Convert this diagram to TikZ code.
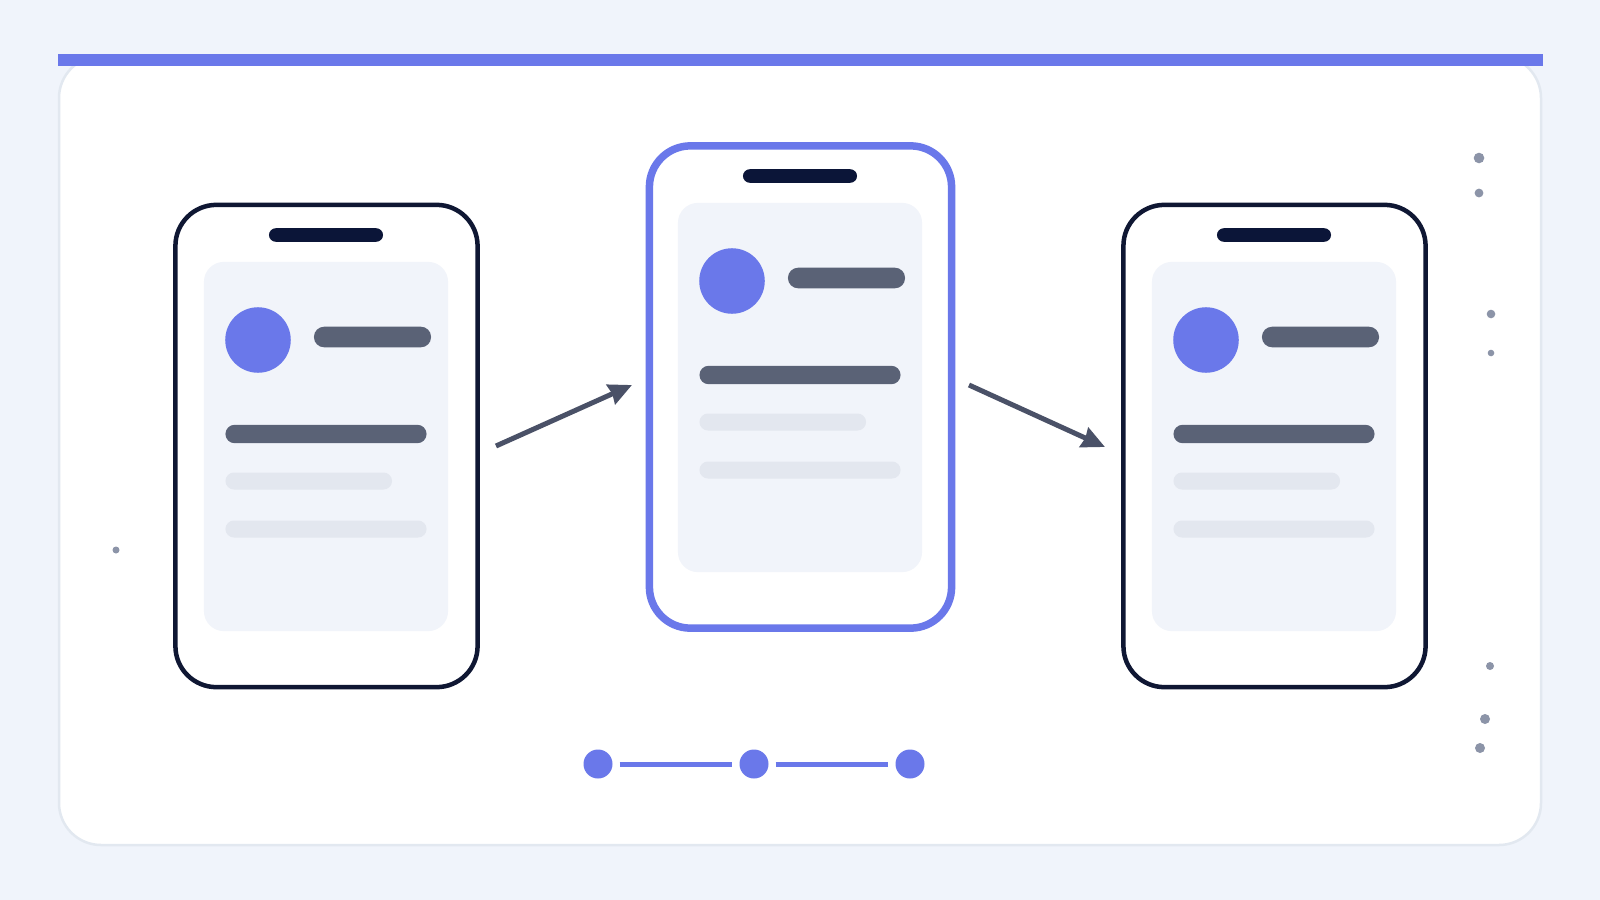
\documentclass[tikz,border=0pt]{standalone}
\usetikzlibrary{arrows.meta}
\definecolor{bg}{HTML}{F0F4FB}
\definecolor{cardborder}{HTML}{E2E8F0}
\definecolor{indigo}{HTML}{6A78EA}
\definecolor{navy}{HTML}{0F1733}
\definecolor{notchc}{HTML}{0B1538}
\definecolor{barc}{HTML}{5A6276}
\definecolor{lightbar}{HTML}{E3E7EF}
\definecolor{panelc}{HTML}{F1F4FA}
\definecolor{arrowc}{HTML}{4A5167}
\definecolor{dotc}{HTML}{8C94A8}
\newcommand\phoneui[3]{%
  \node[phonebox, draw=#2, line width=#3] (#1) at (326.5,446) {};
  \node[panelbox] (#1panel) at (326,446.5) {};
  \node[pill, fill=notchc, minimum width=1.14cm, minimum height=0.135cm, rounded corners=0.0675cm] (#1notch) at (326,235) {};
  \node[avatar] (#1avatar) at (258,340) {};
  \node[pill, fill=barc, minimum width=1.17cm, minimum height=0.205cm, rounded corners=0.1cm] (#1title) at (372.5,337) {};
  \node[pill, fill=barc, minimum width=2.01cm, minimum height=0.184cm, rounded corners=0.092cm] (#1lineA) at (326,434) {};
  \node[pill, fill=lightbar, minimum width=1.665cm, minimum height=0.17cm, rounded corners=0.085cm] (#1lineB) at (308.75,481) {};
  \node[pill, fill=lightbar, minimum width=2.01cm, minimum height=0.17cm, rounded corners=0.085cm] (#1lineC) at (326,529) {};
}
\begin{document}
\begin{tikzpicture}[x=0.01cm,y=-0.01cm,
  phonebox/.style={fill=white, rounded corners=0.41cm, minimum width=3.02cm, minimum height=4.82cm, inner sep=0pt, outer sep=0pt},
  panelbox/.style={fill=panelc, rounded corners=0.2cm, minimum width=2.44cm, minimum height=3.69cm, inner sep=0pt},
  pill/.style={inner sep=0pt, outer sep=0pt},
  avatar/.style={circle, fill=indigo, minimum size=0.655cm, inner sep=0pt},
  flow/.style={draw=arrowc, line width=0.05cm, -{Stealth[length=0.23cm,width=0.21cm,inset=0.015cm]}},
  stepdot/.style={circle, fill=indigo, minimum size=0.29cm, inner sep=0pt, outer sep=0.07cm},
  stepline/.style={draw=indigo, line width=0.05cm},
  deco/.style={fill=dotc}
]
\useasboundingbox (0,0) rectangle (1600,900);
\fill[bg] (0,0) rectangle (1600,900);
% card
\draw[cardborder, line width=0.025cm, fill=white, rounded corners=0.42cm] (59,56) rectangle (1541,845);
\fill[indigo] (58,54) rectangle (1543,66);
% phones
\phoneui{p1}{navy}{0.045cm}
\begin{scope}[shift={(474,-59)}]
\phoneui{p2}{indigo}{0.075cm}
\end{scope}
\begin{scope}[shift={(948,0)}]
\phoneui{p3}{navy}{0.045cm}
\end{scope}
% arrows
\coordinate (a1s) at (496,446);
\coordinate (a1e) at (632,385);
\coordinate (a2s) at (969,385);
\coordinate (a2e) at (1105,447);
\draw[flow] (a1s) -- (a1e);
\draw[flow] (a2s) -- (a2e);
% progress
\node[stepdot] (s1) at (598,764) {};
\node[stepdot] (s2) at (754,764) {};
\node[stepdot] (s3) at (910,764) {};
\draw[stepline] (s1) -- (s2);
\draw[stepline] (s2) -- (s3);
% decorative dots
\fill[deco] (116,550) circle (3.5);
\fill[deco] (1479,158) circle (5.3);
\fill[deco] (1479,193) circle (4.4);
\fill[deco] (1491,314) circle (4.3);
\fill[deco] (1491,353) circle (3.3);
\fill[deco] (1490,666) circle (4);
\fill[deco] (1485,719) circle (5);
\fill[deco] (1480,748) circle (5);
\end{tikzpicture}
\end{document}
